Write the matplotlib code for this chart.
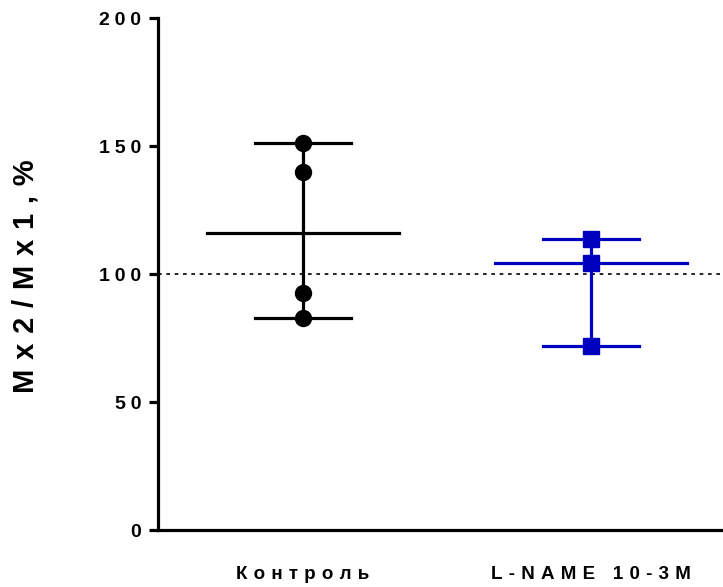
import numpy as np
import matplotlib.pyplot as plt

# values
groups = ["Контроль", "L-NAME 10-3M"]
control = [151.2, 139.8, 92.6, 82.8]
lname = [113.7, 104.3, 71.9]
yticks = [0, 50, 100, 150, 200]
ylabel = "Mx2/Mx1,%"
baseline = 100

colors = ["black", "#0000BF"]
markers = ["o", "s"]


def spaced(s, sep="\u2004"):
    # Prism-style letter spacing
    return sep.join(s)


plt.rcParams["font.family"] = ["Liberation Sans", "DejaVu Sans"]
plt.rcParams["font.weight"] = "bold"

fig = plt.figure(figsize=(7.23, 5.87), dpi=100)
ax = fig.add_axes([0.2185, 0.0971, 0.7815, 0.8722])

for i, (vals, c, m) in enumerate(zip([control, lname], colors, markers)):
    vals = np.array(vals)
    med = np.median(vals)
    lo, hi = vals.min(), vals.max()
    # range bar
    ax.plot([i, i], [lo, hi], color=c, lw=2.3, zorder=2)
    ax.plot([i - 0.167, i + 0.167], [lo, lo], color=c, lw=2.3, zorder=2)
    ax.plot([i - 0.167, i + 0.167], [hi, hi], color=c, lw=2.3, zorder=2)
    # median line
    ax.plot([i - 0.333, i + 0.333], [med, med], color=c, lw=2.3, zorder=2)
    ax.plot(np.full(len(vals), i), vals, linestyle="none", marker=m,
            color=c, markersize=11.5, zorder=3)

ax.axhline(baseline, color="black", lw=1.2, linestyle=(0, (2.2, 2.8)), zorder=1)

ax.set_xlim(-0.503, 1.458)
ax.set_ylim(0, 200)

ax.spines["top"].set_visible(False)
ax.spines["right"].set_visible(False)
ax.spines["left"].set_linewidth(2.3)
ax.spines["bottom"].set_linewidth(2.3)

ax.set_yticks(yticks)
ax.set_yticklabels([spaced(str(t), "\u2005") for t in yticks], fontsize=14, fontweight="bold")
ax.tick_params(axis="y", length=6.5, width=2.3, pad=5.5)

ax.set_xticks(range(len(groups)))
ax.set_xticklabels([spaced(g) for g in groups], fontsize=13.5, fontweight="bold")
ax.tick_params(axis="x", length=0, pad=26)

ax.set_ylabel(spaced(ylabel), fontsize=21, fontweight="bold")
ax.yaxis.label.set_va("center")
ax.yaxis.set_label_coords(-0.235, 0.495)

fig.savefig("out.png", dpi=100)
